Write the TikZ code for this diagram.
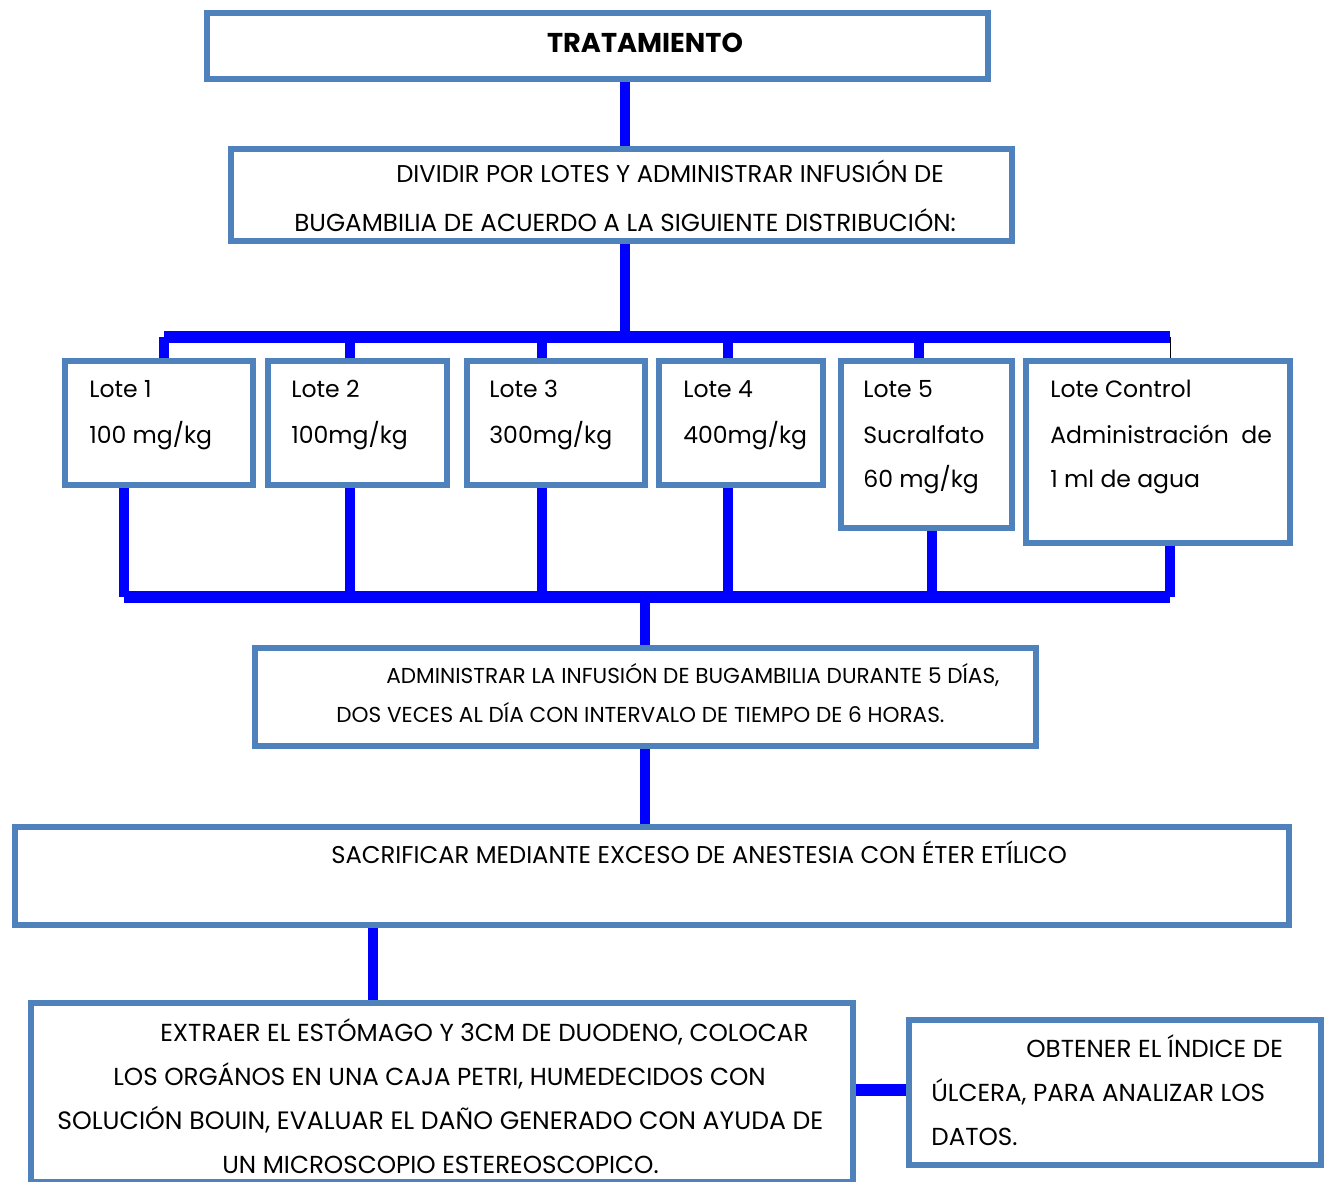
\documentclass[tikz,border=0pt]{standalone}
\usepackage{fontspec}
\setmainfont{Poppins}
\usetikzlibrary{positioning,fit,backgrounds}
\definecolor{azulvivo}{rgb}{0.,0.,1.}
\definecolor{azulcaja}{rgb}{0.31,0.506,0.741}

\begin{document}
\begin{tikzpicture}[line cap=butt,line join=miter,x=0.02cm,y=-0.02cm,
  caja/.style={draw=azulcaja,line width=0.13cm,fill=white,inner sep=0pt,outer sep=0pt},
  enlace/.style={draw=azulvivo,line width=0.2cm},
  barra/.style={draw=azulvivo,line width=0.23cm},
  texto/.style={anchor=base west,inner sep=0pt,font=\fontsize{14}{17}\selectfont},
  textolote/.style={texto,font=\fontsize{13.4}{16}\selectfont},
  textochico/.style={texto,font=\fontsize{12.3}{15}\selectfont}]
\useasboundingbox (0,0) rectangle (1328,1182);
\clip (0,0) rectangle (1328,1182);
% cajas
\node[caja,fit={(207,13) (988,79)}] (trat) {};
\node[caja,fit={(231,149) (1012,241)}] (divid) {};
\node[caja,fit={(65,361) (253,485)}] (lote1) {};
\node[caja,fit={(268,361) (447,485)}] (lote2) {};
\node[caja,fit={(467,361) (645,485)}] (lote3) {};
\node[caja,fit={(659,361) (823,485)}] (lote4) {};
\node[caja,fit={(841,361) (1012,528)}] (lote5) {};
\node[caja,fit={(1026,361) (1290,543)}] (lotec) {};
\node[caja,fit={(255,648) (1036,746)}] (admin) {};
\node[caja,fit={(15,827) (1289,925)}] (sacr) {};
\node[caja,fit={(31,1003) (853,1182)}] (extr) {};
\node[caja,fit={(909,1020) (1321,1165)}] (obt) {};
% textos
\node[anchor=base,inner sep=0pt,font=\fontsize{15.5}{18}\selectfont\bfseries] (t-trat) at (645,53) {TRATAMIENTO};
\node[texto,font=\fontsize{13.8}{17}\selectfont] (t-div1) at (396,183) {DIVIDIR POR LOTES Y ADMINISTRAR INFUSIÓN DE};
\node[texto] (t-div2) at (294,232) {BUGAMBILIA DE ACUERDO A LA SIGUIENTE DISTRIBUCIÓN:};
\node[textolote] (t-l1a) at (89,398) {Lote 1};
\node[textolote] (t-l1b) at (89,443) {100 mg/kg};
\node[textolote] (t-l2a) at (291,398) {Lote 2};
\node[textolote] (t-l2b) at (291,443) {100mg/kg};
\node[textolote] (t-l3a) at (489,398) {Lote 3};
\node[textolote] (t-l3b) at (489,443) {300mg/kg};
\node[textolote] (t-l4a) at (683,398) {Lote 4};
\node[textolote] (t-l4b) at (683,443) {400mg/kg};
\node[textolote] (t-l5a) at (863,398) {Lote 5};
\node[textolote] (t-l5b) at (863,443) {Sucralfato};
\node[textolote] (t-l5c) at (863,487) {60 mg/kg};
\node[textolote] (t-lca) at (1050,398) {Lote Control};
\node[textolote] (t-lcb) at (1050,443) {Administración~~de};
\node[textolote] (t-lcc) at (1050,487) {1 ml de agua};
\node[textochico] (t-adm1) at (386,683) {ADMINISTRAR LA INFUSIÓN DE BUGAMBILIA DURANTE 5 DÍAS,};
\node[textochico] (t-adm2) at (336,722) {DOS VECES AL DÍA CON INTERVALO DE TIEMPO DE 6 HORAS.};
\node[texto,font=\fontsize{13.8}{17}\selectfont] (t-sac) at (331,863) {SACRIFICAR MEDIANTE EXCESO DE ANESTESIA CON ÉTER ETÍLICO};
\node[texto] (t-ext1) at (160,1041) {EXTRAER EL ESTÓMAGO Y 3CM DE DUODENO, COLOCAR};
\node[texto] (t-ext2) at (113,1085) {LOS ORGÁNOS EN UNA CAJA PETRI, HUMEDECIDOS CON};
\node[texto,font=\fontsize{14.3}{17}\selectfont] (t-ext3) at (57,1129) {SOLUCIÓN BOUIN, EVALUAR EL DAÑO GENERADO CON AYUDA DE};
\node[texto] (t-ext4) at (222,1173) {UN MICROSCOPIO ESTEREOSCOPICO.};
\node[texto] (t-obt1) at (1026,1057) {OBTENER EL ÍNDICE DE};
\node[texto] (t-obt2) at (931,1101) {ÚLCERA, PARA ANALIZAR LOS};
\node[texto] (t-obt3) at (931,1145) {DATOS.};
% conectores
\coordinate (busa) at (625,337);
\coordinate (busa-izq) at (164,337);
\coordinate (busa-der) at (1170,337);
\coordinate (busb) at (645,597);
\coordinate (busb-izq) at (124,597);
\coordinate (busb-der) at (1170,597);
\begin{scope}[on background layer]
\draw[enlace] (trat.south -| busa) -- (divid.north -| busa);
\draw[enlace] (divid.south -| busa) -- (busa);
\draw[barra] (busa-izq) -- (busa-der);
\draw[enlace] (busa-izq) -- (busa-izq |- lote1.north);
\foreach \n/\x in {lote2/350,lote3/542,lote4/728,lote5/919}
  \draw[enlace] (\x,337) -- (\n.north -| \x,337);
\draw[black,line width=0.4pt] (busa-der) -- (busa-der |- lotec.north);
\foreach \n/\x in {lote1/124,lote2/350,lote3/542,lote4/728,lote5/932,lotec/1170}
  \draw[enlace] (\n.south -| \x,597) -- (\x,597);
\draw[barra] (busb-izq) -- (busb-der);
\draw[enlace] (busb) -- (admin.north -| busb);
\draw[enlace] (admin.south -| busb) -- (sacr.north -| busb);
\draw[enlace] (sacr.south -| 373,0) -- (extr.north -| 373,0);
\draw[azulvivo,line width=0.24cm] (extr.east |- 0,1090) -- (obt.west |- 0,1090);
\end{scope}
\end{tikzpicture}
\end{document}
